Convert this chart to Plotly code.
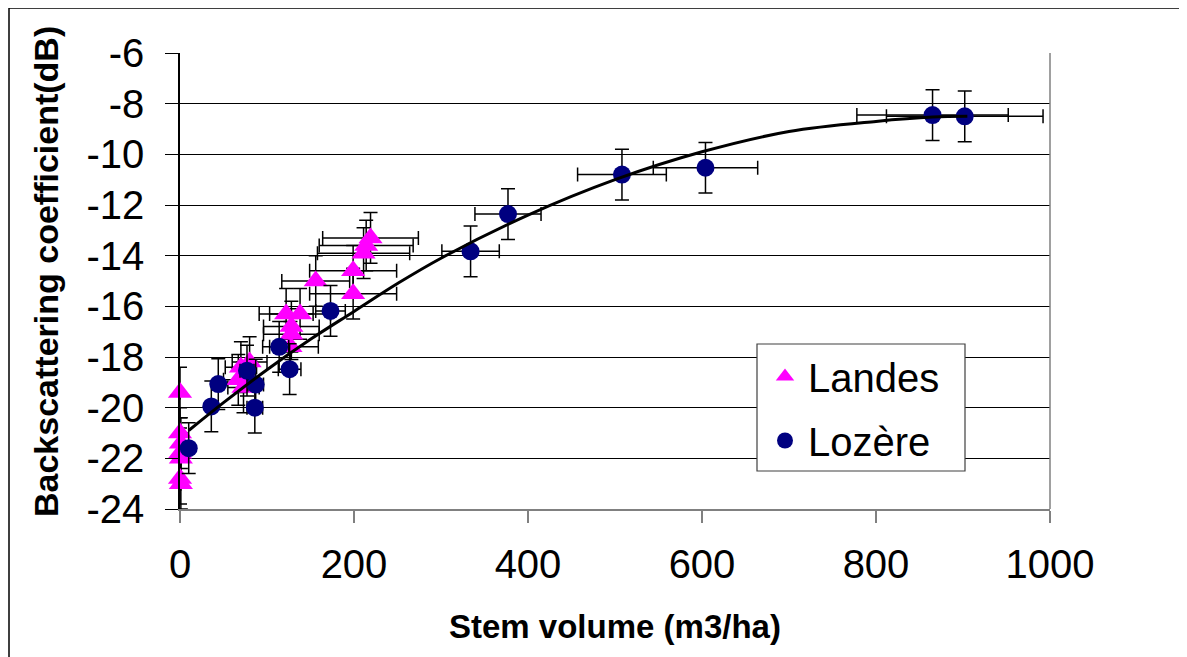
import plotly.graph_objects as go

# ---- data ----
landes_x = [0, 0, 1, 0, 1, 0, 1, 67, 70, 80, 73, 122, 138, 128, 128, 127, 156, 199, 199, 219, 214, 211]
landes_y = [-19.4, -21.0, -21.4, -21.8, -22.0, -22.8, -23.0, -18.9, -18.4, -18.2, -19.2,
            -16.3, -16.3, -16.8, -17.1, -17.6, -15.0, -14.6, -15.5, -13.3, -13.6, -13.9]
landes_xerr = [0, 0, 0, 0, 0, 0, 0, 17, 18, 20, 18, 31, 35, 32, 32, 32, 39, 50, 50, 55, 54, 53]
landes_yerr = [1.0] * 22

lozere_x = [10, 36, 44, 77, 87, 86, 114, 126, 173, 334, 377, 508, 604, 865, 902]
lozere_y = [-21.6, -19.95, -19.07, -18.54, -19.09, -20.0, -17.6, -18.48, -16.18,
            -13.83, -12.36, -10.8, -10.53, -8.45, -8.5]
lozere_xerr = [1, 4, 4, 8, 9, 9, 11, 13, 17, 33, 38, 51, 60, 87, 90]
lozere_yerr = [1.0] * 15

fit_x = [10, 50, 100, 150, 200, 250, 300, 400, 500, 600, 700, 800, 865, 905]
fit_y = [-20.9, -19.8, -18.5, -17.3, -16.2, -15.1, -14.1, -12.4, -11.0, -9.9, -9.1, -8.7, -8.53, -8.5]

x_ticks = [0, 200, 400, 600, 800, 1000]
y_ticks = [-24, -22, -20, -18, -16, -14, -12, -10, -8, -6]

FONT = "Liberation Sans, Arial, sans-serif"
OFF = 8  # page body margin
W, H = 1187, 657
ML, MR, MT, MB = 172, 1187 - 1042, 45, 657 - 501
PW, PH = W - ML - MR, H - MT - MB


def px_x(p):
    return (p - OFF - ML) / PW


def px_y(p):
    return (H - MB - (p - OFF)) / PH


fig = go.Figure()

fig.add_trace(go.Scatter(
    x=landes_x, y=landes_y, mode="markers", name="Landes",
    legendgroup="a", cliponaxis=False,
    marker=dict(symbol="triangle-up", size=21, color="#FF00FF"),
    error_x=dict(type="data", array=landes_xerr, color="black", thickness=1.5, width=7),
    error_y=dict(type="data", array=landes_yerr, color="black", thickness=1.5, width=7),
))
fig.add_trace(go.Scatter(
    x=lozere_x, y=lozere_y, mode="markers", name="Lozère",
    legendgroup="b", cliponaxis=False,
    marker=dict(symbol="circle", size=18, color="#000080"),
    error_x=dict(type="data", array=lozere_xerr, color="black", thickness=1.5, width=7),
    error_y=dict(type="data", array=lozere_yerr, color="black", thickness=1.5, width=7),
))
fig.add_trace(go.Scatter(
    x=fit_x, y=fit_y, mode="lines", showlegend=False,
    line=dict(color="black", width=3, shape="spline"),
))

fig.update_layout(
    width=W, height=H,
    margin=dict(l=ML, r=MR, t=MT, b=MB, autoexpand=False),
    paper_bgcolor="white", plot_bgcolor="white",
    font=dict(family=FONT, color="black"),
    showlegend=True,
    legend=dict(
        x=px_x(762), y=px_y(344), xanchor="left", yanchor="top",
        font=dict(size=40, family=FONT, color="black"),
        borderwidth=0, bgcolor="rgba(0,0,0,0)",
        traceorder="grouped", tracegroupgap=9,
        itemsizing="trace", itemwidth=36,
    ),
    xaxis=dict(
        range=[0, 1000], tickvals=x_ticks, ticktext=[str(v) for v in x_ticks],
        showgrid=False, zeroline=False,
        showline=True, linecolor="#808080", linewidth=1.5, mirror=False,
        ticks="outside", ticklen=12, tickcolor="#808080", tickwidth=1.5,
        tickfont=dict(size=40, family=FONT, color="black"),
        ticklabelstandoff=7,
    ),
    yaxis=dict(
        range=[-24, -6], tickvals=y_ticks, ticktext=[str(v) for v in y_ticks],
        showgrid=True, gridcolor="black", gridwidth=1,
        zeroline=False,
        showline=True, linecolor="black", linewidth=1.5, mirror=False,
        ticks="outside", ticklen=13, tickcolor="black", tickwidth=1,
        tickfont=dict(size=40, family=FONT, color="black"),
        ticklabelstandoff=13,
    ),
    annotations=[
        dict(text="<b>Backscattering coefficient(dB)</b>", xref="paper", yref="paper",
             x=px_x(46), y=px_y(272), xanchor="center", yanchor="middle",
             textangle=-90, showarrow=False, font=dict(size=34, family=FONT, color="black")),
        dict(text="<b>Stem volume (m3/ha)</b>", xref="paper", yref="paper",
             x=px_x(615), y=px_y(626), xanchor="center", yanchor="middle",
             showarrow=False, font=dict(size=33, family=FONT, color="black")),
    ],
    shapes=[
        # right plot border
        dict(type="line", xref="paper", yref="paper", x0=1, x1=1, y0=0, y1=1,
             line=dict(color="#808080", width=1.5)),
        # outer chart frame
        dict(type="rect", xref="paper", yref="paper",
             x0=px_x(9), x1=px_x(1220), y0=px_y(700), y1=px_y(8),
             line=dict(color="black", width=1.5), layer="below"),
        # legend box
        dict(type="rect", xref="paper", yref="paper",
             x0=px_x(757), x1=px_x(965), y0=px_y(471), y1=px_y(344),
             line=dict(color="#404040", width=1.2), fillcolor="white", layer="above"),
    ],
)

fig.write_html("out.html")
